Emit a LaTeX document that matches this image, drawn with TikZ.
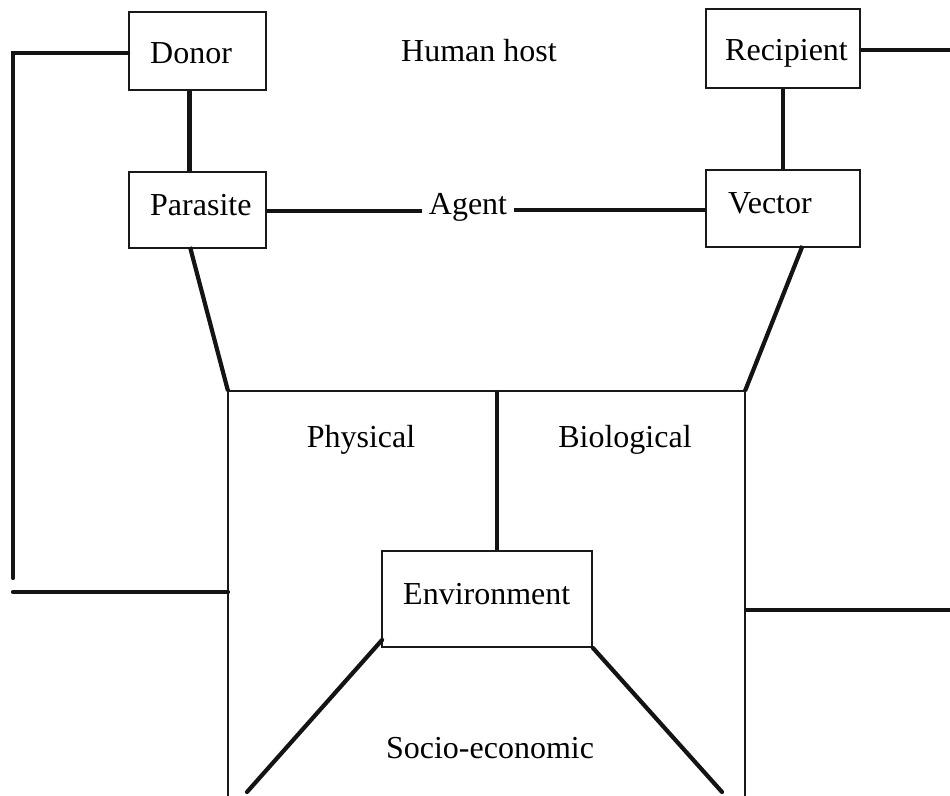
\documentclass[tikz,border=0pt]{standalone}
\usepackage{fontspec}
\setmainfont{Liberation Serif}
\begin{document}
\begin{tikzpicture}[x=1pt,y=-1pt,
  thinbox/.style={draw=black!90,line width=1.8pt,rectangle,inner sep=0pt},
  label/.style={inner sep=0pt,font=\fontsize{32}{36}\selectfont},
  boxtext/.style={label,anchor=base west},
  conn/.style={draw=black!92,line width=4.2pt},
  frame/.style={draw=black!90,line width=1.8pt}]
\useasboundingbox (0,0) rectangle (950,795);
% boxes
\node[thinbox,minimum width=137pt,minimum height=78pt] (donor) at (197.5,51) {};
\node[thinbox,minimum width=137pt,minimum height=76pt] (parasite) at (197.5,210) {};
\node[thinbox,minimum width=154pt,minimum height=79pt] (recipient) at (783,48.5) {};
\node[thinbox,minimum width=154pt,minimum height=77pt] (vector) at (783,208.5) {};
\node[thinbox,minimum width=210pt,minimum height=96pt] (env) at (487,599) {};
% box texts
\node[boxtext] (donortxt) at (150,63) {Donor};
\node[boxtext] (parasitetxt) at (150,215) {Parasite};
\node[boxtext] (recipienttxt) at (725,60) {Recipient};
\node[boxtext] (vectortxt) at (728,213) {Vector};
\node[boxtext] (envtxt) at (403,604) {Environment};
% labels
\node[boxtext] (host) at (401,61) {Human host};
\node[label,inner xsep=7pt] (agent) at (468,207) {Agent};
\node[label] (phys) at (361,440) {Physical};
\node[label] (bio) at (625,440) {Biological};
\node[label] (socio) at (490,748) {Socio-economic};
% big environment frame (open at bottom)
\coordinate (bbTL) at (228,391);
\coordinate (bbTR) at (745,391);
\coordinate (bbBL) at (228,800);
\coordinate (bbBR) at (745,800);
\draw[frame] (bbBL) -- (bbTL) -- (bbTR) -- (bbBR);
% outer coordinates
\coordinate (L1) at (13,578);
\coordinate (L2) at (13,592);
\coordinate (L3) at (228,592);
\coordinate (R1) at (950,50);
\coordinate (R2) at (745,610);
\coordinate (R3) at (950,610);
\coordinate (M1) at (497,391);
\coordinate (S1) at (247,792);
\coordinate (S2) at (722,792);
\coordinate (A1) at (parasite.east |- 0,211);
\coordinate (A2) at (vector.west |- 0,210);
% connectors
\draw[conn,line cap=round] (donor.west |- 0,53) -| (L1);
\draw[conn,line cap=round] (L2) -- (L3);
\draw[conn] (recipient.east |- R1) -- (R1);
\draw[conn] (R2) -- (R3);
\draw[conn] ([xshift=-8pt]donor.south) -- ([xshift=-8pt]parasite.north);
\draw[conn] (recipient.south) -- (vector.north);
\draw[conn] (A1) -- (agent.west |- A1);
\draw[conn] (agent.east |- A2) -- (A2);
\draw[conn] ([xshift=-7.5pt,yshift=2pt]parasite.south) -- (bbTL);
\draw[conn] ([xshift=19.5pt,yshift=2pt]vector.south) -- (bbTR);
\draw[conn] (M1) -- ([xshift=10pt]env.north);
\draw[conn,line cap=round] ([xshift=1pt,yshift=8pt]env.south west) -- (S1);
\draw[conn,line cap=round] (env.south east) -- (S2);
\end{tikzpicture}
\end{document}
